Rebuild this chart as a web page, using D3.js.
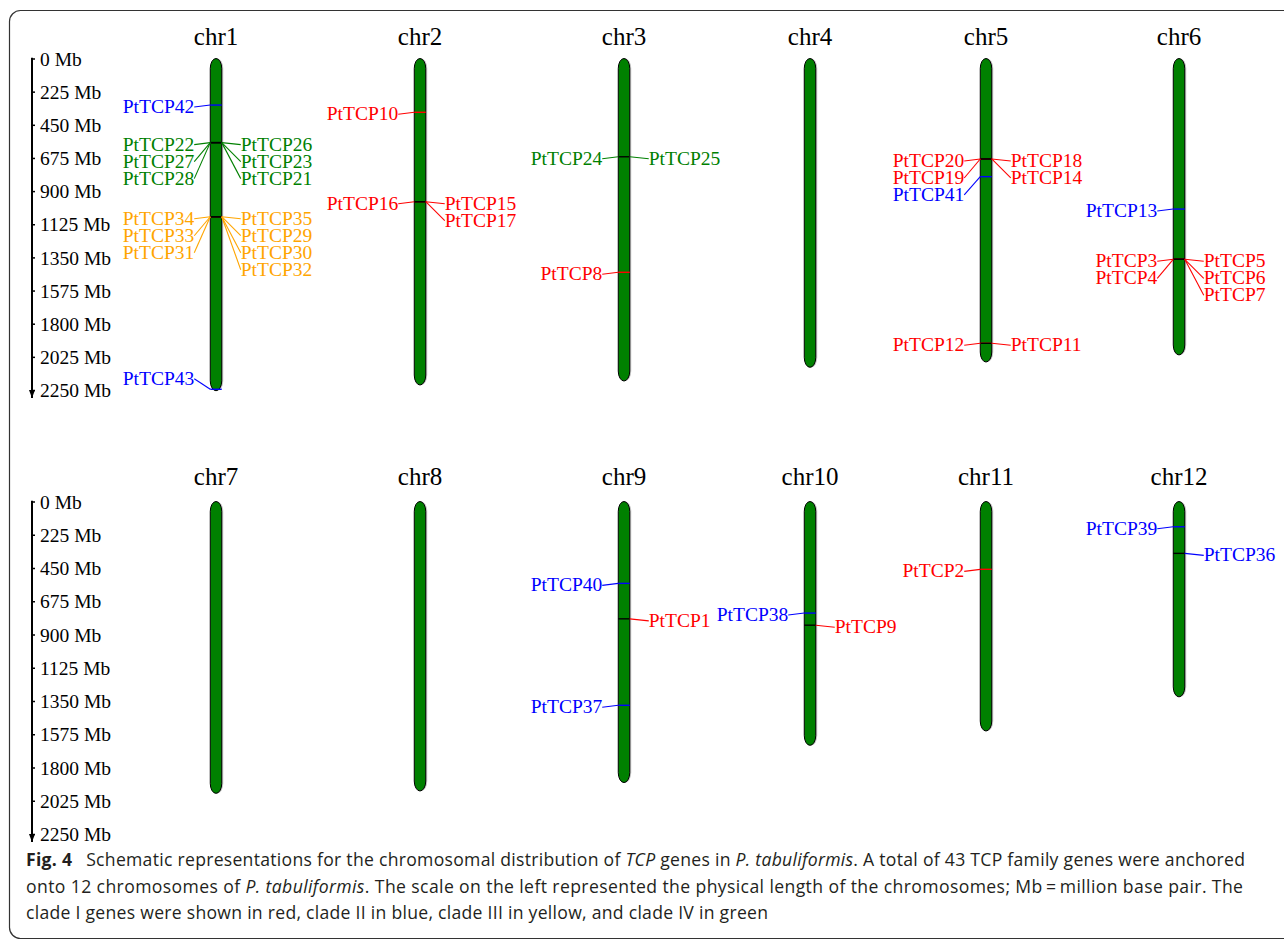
<!DOCTYPE html>
<html>
<head>
<meta charset="utf-8">
<script src="https://cdn.jsdelivr.net/npm/d3@7"></script>
<style>
  body { margin: 0; background: #fff; }
  .serif { font-family: "Liberation Serif", "Times New Roman", serif; }
  .caption { font-family: "Open Sans", "Noto Sans", sans-serif; fill: #231f20; }
</style>
</head>
<body>
<svg id="fig" width="1284" height="940"></svg>
<script>

// ---- data ----
var chrNames   = ["chr1", "chr2", "chr3", "chr4", "chr5", "chr6",
                  "chr7", "chr8", "chr9", "chr10", "chr11", "chr12"];
var chrLengths = [2255, 2216, 2189, 2096, 2060, 2012,
                  1975, 1959, 1902, 1650, 1553, 1322];   // Mb

var geneNames = ["PtTCP42", "PtTCP22", "PtTCP27", "PtTCP28", "PtTCP26", "PtTCP23", "PtTCP21",
                 "PtTCP34", "PtTCP33", "PtTCP31", "PtTCP35", "PtTCP29", "PtTCP30", "PtTCP32", "PtTCP43",
                 "PtTCP10", "PtTCP16", "PtTCP15", "PtTCP17",
                 "PtTCP24", "PtTCP25", "PtTCP8",
                 "PtTCP20", "PtTCP19", "PtTCP18", "PtTCP14", "PtTCP41", "PtTCP12", "PtTCP11",
                 "PtTCP13", "PtTCP3", "PtTCP4", "PtTCP5", "PtTCP6", "PtTCP7",
                 "PtTCP40", "PtTCP1", "PtTCP37",
                 "PtTCP38", "PtTCP9",
                 "PtTCP2",
                 "PtTCP39", "PtTCP36"];
var geneChr   = ["chr1", "chr1", "chr1", "chr1", "chr1", "chr1", "chr1",
                 "chr1", "chr1", "chr1", "chr1", "chr1", "chr1", "chr1", "chr1",
                 "chr2", "chr2", "chr2", "chr2",
                 "chr3", "chr3", "chr3",
                 "chr5", "chr5", "chr5", "chr5", "chr5", "chr5", "chr5",
                 "chr6", "chr6", "chr6", "chr6", "chr6", "chr6",
                 "chr9", "chr9", "chr9",
                 "chr10", "chr10",
                 "chr11",
                 "chr12", "chr12"];
var genePos   = [316, 571, 571, 571, 571, 571, 571,
                 1074, 1074, 1074, 1074, 1074, 1074, 1074, 2245,
                 365, 972, 972, 972,
                 667, 667, 1451,
                 682, 682, 682, 682, 802, 1933, 1933,
                 1022, 1363, 1363, 1363, 1363, 1363,
                 554, 794, 1379,
                 755, 837,
                 459,
                 171, 351];        // Mb
var geneSide  = ["L", "L", "L", "L", "R", "R", "R",
                 "L", "L", "L", "R", "R", "R", "R", "L",
                 "L", "L", "R", "R",
                 "L", "R", "L",
                 "L", "L", "R", "R", "L", "L", "R",
                 "L", "L", "L", "R", "R", "R",
                 "L", "R", "L",
                 "L", "R",
                 "L",
                 "L", "R"];
var geneClade = ["II", "IV", "IV", "IV", "IV", "IV", "IV",
                 "III", "III", "III", "III", "III", "III", "III", "II",
                 "I", "I", "I", "I",
                 "IV", "IV", "I",
                 "I", "I", "I", "I", "II", "I", "I",
                 "II", "I", "I", "I", "I", "I",
                 "II", "I", "II",
                 "II", "I",
                 "I",
                 "II", "II"];

var tickValues = [0, 225, 450, 675, 900, 1125, 1350, 1575, 1800, 2025, 2250];

var cladeColor = {I: "#ff0000", II: "#0000ff", III: "#ffa500", IV: "#008000"};

var captionLines = [
  [["b", "Fig. 4"], ["n", "\u2002 Schematic representations for the chromosomal distribution of "], ["i", "TCP"],
   ["n", " genes in "], ["i", "P. tabuliformis"], ["n", ". A total of 43 TCP family genes were anchored"]],
  [["n", "onto 12 chromosomes of "], ["i", "P. tabuliformis"],
   ["n", ". The scale on the left represented the physical length of the chromosomes; Mb\u2009=\u2009million base pair. The"]],
  [["n", "clade I genes were shown in red, clade II in blue, clade III in yellow, and clade IV in green"]]
];

// ---- layout ----
var columnX = [216, 420, 624, 810, 986, 1179];
var rowRange = [[58.5, 390], [501.5, 834]];
var rowTitleY = [45, 485];
var chrW = 11.5;
var labelShift = 8, labelGap = 17;
var captionWidth = [1219, 1217, 742];

var svg = d3.select("#fig");

// frame
svg.append("rect")
  .attr("x", 9.5).attr("y", 10.5)
  .attr("width", 1400).attr("height", 928)
  .attr("rx", 11)
  .attr("fill", "none")
  .attr("stroke", "#333")
  .attr("stroke-width", 1.2);

var xScale = d3.scaleOrdinal().domain(d3.range(6)).range(columnX);

svg.append("defs").append("marker")
  .attr("id", "arrow")
  .attr("viewBox", "0 0 6 8")
  .attr("refX", 3).attr("refY", 8)
  .attr("markerWidth", 6).attr("markerHeight", 8)
  .attr("markerUnits", "userSpaceOnUse")
  .attr("orient", "0")
  .append("path")
  .attr("d", "M0,0 L6,0 L3,8 Z")
  .attr("fill", "#000");

var genes = geneNames.map((n, i) => ({
  name: n, chr: geneChr[i], pos: genePos[i], side: geneSide[i],
  color: cladeColor[geneClade[i]], i: i
}));

[0, 1].forEach(function(row) {

  var yScale = d3.scaleLinear().domain([0, 2250]).range(rowRange[row]);
  var g = svg.append("g");

  // scale bar on the left
  var axis = g.append("g")
    .attr("class", "serif")
    .attr("transform", "translate(32,0)")
    .call(d3.axisRight(yScale)
      .tickValues(tickValues)
      .tickSize(3)
      .tickPadding(5)
      .tickFormat(d => d + " Mb"));
  axis.select(".domain").remove();
  axis.selectAll(".tick line").attr("stroke-width", 1.5);
  axis.selectAll(".tick text")
    .attr("font-size", "19.5px")
    .attr("font-family", "'Liberation Serif', 'Times New Roman', serif")
    .attr("fill", "#000")
    .attr("dy", "0.34em");
  g.append("line")
    .attr("x1", 32).attr("x2", 32)
    .attr("y1", yScale(0) - 0.75)
    .attr("y2", yScale(2250) + 8)
    .attr("stroke", "#000")
    .attr("stroke-width", 2)
    .attr("marker-end", "url(#arrow)");

  var rowChrs = chrNames.slice(row * 6, row * 6 + 6);

  rowChrs.forEach(function(chr, c) {
    var cx = xScale(c);
    var len = chrLengths[chrNames.indexOf(chr)];
    var y0 = yScale(0), y1 = yScale(len);

    g.append("text")
      .attr("class", "serif")
      .attr("x", cx).attr("y", rowTitleY[row])
      .attr("text-anchor", "middle")
      .attr("font-size", "25px")
      .text(chr);

    // shadow + body
    g.append("rect")
      .attr("x", cx - chrW / 2 + 1.5).attr("y", y0)
      .attr("width", chrW).attr("height", y1 - y0)
      .attr("rx", chrW / 2).attr("ry", 10)
      .attr("fill", "#c4c4c4");
    g.append("rect")
      .attr("x", cx - chrW / 2).attr("y", y0)
      .attr("width", chrW).attr("height", y1 - y0)
      .attr("rx", chrW / 2).attr("ry", 10)
      .attr("fill", "#008000")
      .attr("stroke", "#000")
      .attr("stroke-width", 1);

    var chrGenes = genes.filter(d => d.chr == chr);

    ["L", "R"].forEach(function(side) {
      var list = chrGenes.filter(d => d.side == side)
        .sort((a, b) => a.pos - b.pos || a.i - b.i);
      var prev = -Infinity;
      list.forEach(function(d) {
        d.ly = Math.max(yScale(d.pos) + labelShift, prev + labelGap);
        prev = d.ly;
      });
      // keep the last labels beside the chromosome
      var limit = y1 - 6;
      for (var k = list.length - 1; k >= 0; k--) {
        if (list[k].ly > limit) list[k].ly = limit;
        limit = list[k].ly - labelGap;
      }
    });

    var edgeL = cx - chrW / 2, edgeR = cx + chrW / 2;
    var endL = edgeL - 16, startR = edgeR + 19;

    // markers: left genes in colour, right genes in black on top
    chrGenes.slice().sort((a, b) => (a.side == "R") - (b.side == "R")).forEach(function(d) {
      g.append("line")
        .attr("x1", edgeL).attr("x2", edgeR)
        .attr("y1", yScale(d.pos)).attr("y2", yScale(d.pos))
        .attr("stroke", d.side == "L" ? d.color : "#000")
        .attr("stroke-width", 1.4);
    });

    chrGenes.forEach(function(d) {
      var gy = yScale(d.pos);
      var left = d.side == "L";
      g.append("line")
        .attr("x1", left ? edgeL : edgeR)
        .attr("y1", gy)
        .attr("x2", left ? endL : startR)
        .attr("y2", d.ly - 6)
        .attr("stroke", d.color)
        .attr("stroke-width", 1.1);
      g.append("text")
        .attr("class", "serif")
        .attr("x", left ? endL : startR)
        .attr("y", d.ly)
        .attr("text-anchor", left ? "end" : "start")
        .attr("font-size", "19.5px")
        .attr("fill", d.color)
        .text(d.name);
    });
  });
});

// caption
var cap = svg.append("g").attr("class", "caption");
captionLines.forEach(function(parts, li) {
  var t = cap.append("text")
    .attr("x", 26)
    .attr("y", 866 + li * 26.5)
    .attr("font-size", "17.6px");
  if (captionWidth[li]) {
    t.attr("textLength", captionWidth[li]).attr("lengthAdjust", "spacing");
  }
  parts.forEach(function(p) {
    t.append("tspan")
      .attr("font-weight", p[0] == "b" ? 700 : 400)
      .attr("font-style", p[0] == "i" ? "italic" : "normal")
      .text(p[1]);
  });
});

</script>
</body>
</html>
